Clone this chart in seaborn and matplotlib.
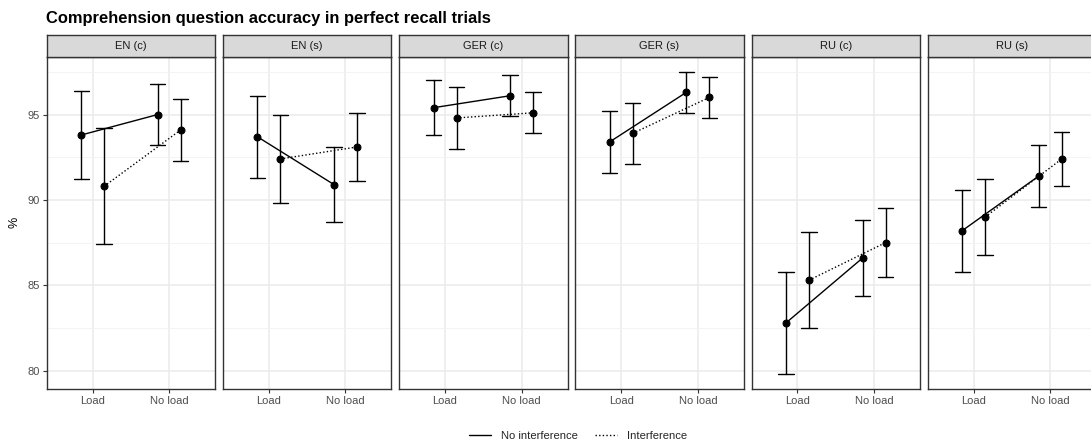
import numpy as np
import pandas as pd
import matplotlib
matplotlib.use("Agg")
import matplotlib.pyplot as plt
from matplotlib.lines import Line2D
import seaborn as sns

# ---- data -------------------------------------------------------------
panels = ["EN (c)", "EN (s)", "GER (c)", "GER (s)", "RU (c)", "RU (s)"]
loads = ["Load", "No load"]
conditions = ["No interference", "Interference"]

# accuracy (%) per panel as [Load, No load]
mean_no_int = [[93.8, 95.0], [93.7, 90.9], [95.4, 96.1], [93.4, 96.3], [82.8, 86.6], [88.2, 91.4]]
low_no_int = [[91.2, 93.2], [91.3, 88.7], [93.8, 94.9], [91.6, 95.1], [79.8, 84.4], [85.8, 89.6]]
high_no_int = [[96.4, 96.8], [96.1, 93.1], [97.0, 97.3], [95.2, 97.5], [85.8, 88.8], [90.6, 93.2]]

mean_int = [[90.8, 94.1], [92.4, 93.1], [94.8, 95.1], [93.9, 96.0], [85.3, 87.5], [89.0, 92.4]]
low_int = [[87.4, 92.3], [89.8, 91.1], [93.0, 93.9], [92.1, 94.8], [82.5, 85.5], [86.8, 90.8]]
high_int = [[94.2, 95.9], [95.0, 95.1], [96.6, 96.3], [95.7, 97.2], [88.1, 89.5], [91.2, 94.0]]

y_ticks = [80, 85, 90, 95]

# long table: lower bound, estimate and upper bound for every cell
rows = []
for cond, m, lo, hi in [(conditions[0], mean_no_int, low_no_int, high_no_int),
                        (conditions[1], mean_int, low_int, high_int)]:
    for p, panel in enumerate(panels):
        for k, load in enumerate(loads):
            for v in (lo[p][k], m[p][k], hi[p][k]):
                rows.append({"panel": panel, "load": load, "condition": cond, "value": v})
df = pd.DataFrame(rows)

# ---- figure -----------------------------------------------------------
sns.set_theme(style="white")
plt.rcParams["font.family"] = ["Liberation Sans", "DejaVu Sans"]

W, H = 1091, 445
fig = plt.figure(figsize=(W / 100, H / 100), dpi=100)
fig.patch.set_facecolor("white")

left0, pw, step = 46.7, 168.5, 176.2
top_px, bot_px, strip_top = 56.7, 389.3, 35.0
ymin, ymax = 78.915, 98.385

def rng(v):
    return (np.min(v), np.max(v))

for i, panel in enumerate(panels):
    x0 = left0 + i * step
    ax = fig.add_axes([x0 / W, 1 - bot_px / H, pw / W, (bot_px - top_px) / H])
    sub = df[df["panel"] == panel]
    sns.pointplot(data=sub, x="load", y="value", hue="condition",
                  order=loads, hue_order=conditions,
                  estimator="median", errorbar=rng,
                  dodge=0.3, capsize=0.2,
                  palette=["black", "black"], markers=["o", "o"],
                  linestyles=["-", (0, (1, 1.6))],
                  markersize=5, linewidth=1.0,
                  err_kws={"linewidth": 1.0, "linestyle": "-"},
                  legend=False, ax=ax)
    ax.set_xlim(-0.6, 1.6)
    ax.set_ylim(ymin, ymax)
    ax.set_xlabel("")
    ax.set_ylabel("")
    ax.set_yticks(y_ticks)
    ax.set_yticks([82.5, 87.5, 92.5, 97.5], minor=True)
    ax.set_axisbelow(True)
    ax.grid(True, which="major", color="#EBEBEB", linewidth=1.1)
    ax.grid(True, which="minor", axis="y", color="#F2F2F2", linewidth=0.6)
    for s in ax.spines.values():
        s.set_color("#333333")
        s.set_linewidth(1.0)
    ax.tick_params(axis="x", length=3, width=0.8, color="#333333",
                   labelsize=8, labelcolor="#4D4D4D", pad=2, bottom=True)
    ax.tick_params(axis="y", which="minor", length=0)
    if i == 0:
        ax.tick_params(axis="y", which="major", length=3, width=0.8, color="#333333",
                       labelsize=8, labelcolor="#4D4D4D", pad=2, left=True)
    else:
        ax.tick_params(axis="y", which="major", length=0, labelleft=False)

    # facet strip
    sax = fig.add_axes([x0 / W, 1 - top_px / H, pw / W, (top_px - strip_top) / H])
    sax.set_facecolor("#D9D9D9")
    sax.set_xticks([])
    sax.set_yticks([])
    for s in sax.spines.values():
        s.set_color("#333333")
        s.set_linewidth(1.0)
    sax.text(0.5, 0.5, panel, ha="center", va="center", fontsize=8, color="#1A1A1A",
             transform=sax.transAxes)

fig.text(46.5 / W, 1 - 18 / H, "Comprehension question accuracy in perfect recall trials",
         fontsize=11.9, fontweight="bold", ha="left", va="center", color="black")
fig.text(15 / W, 1 - 222 / H, "%", rotation=90, fontsize=9, ha="center", va="center",
         color="black")

handles = [Line2D([], [], color="black", linewidth=1.0, linestyle="-"),
           Line2D([], [], color="black", linewidth=1.0, linestyle=(0, (1, 1.6)))]
fig.legend(handles, conditions, loc="center", bbox_to_anchor=(578 / W, 1 - 436 / H),
           ncol=2, frameon=False, fontsize=8.1, handlelength=1.95, columnspacing=1.5,
           handletextpad=0.9)

fig.savefig("out.png", dpi=100, facecolor="white")
